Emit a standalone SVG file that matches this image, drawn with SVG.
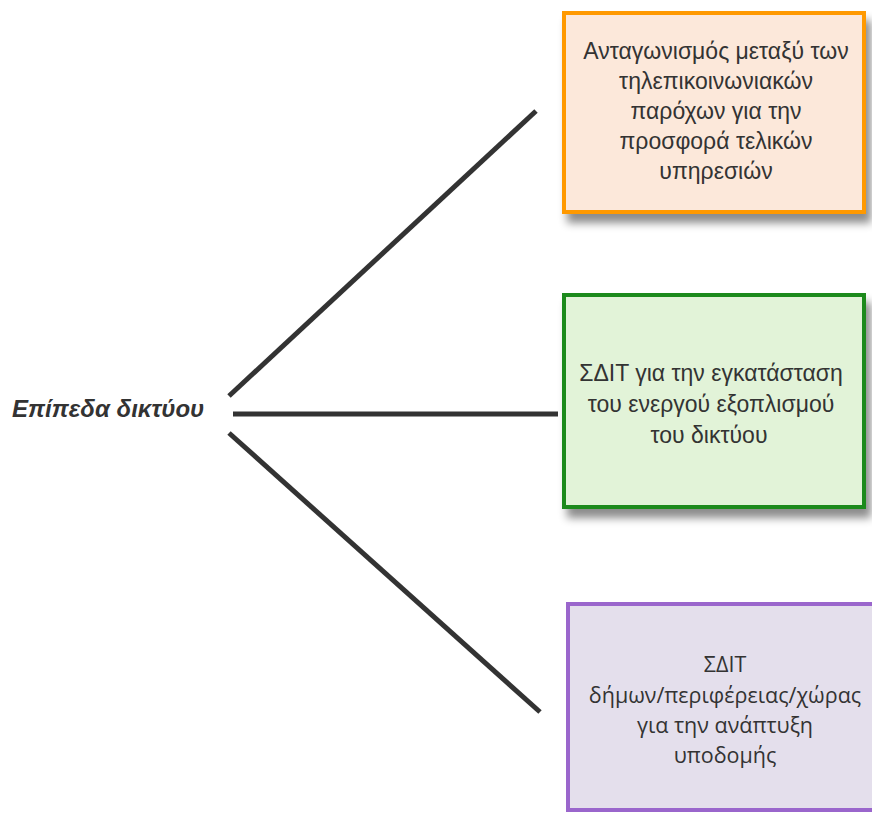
<svg xmlns="http://www.w3.org/2000/svg" width="872" height="813" viewBox="0 0 872 813">
  <defs>
    <filter id="shadow" x="-10%" y="-10%" width="130%" height="140%">
      <feDropShadow dx="5" dy="9" stdDeviation="4" flood-color="#000" flood-opacity="0.45"/>
    </filter>
  </defs>
  <style>
    .box { stroke-width: 4; }
    .txt { font-family: "Liberation Sans", Arial, sans-serif; font-size: 23px; fill: #333; text-anchor: middle; }
    .txt2 { font-family: "Open Sans", "Noto Sans", sans-serif; font-size: 21.5px; fill: #333; text-anchor: middle; }
    .conn { stroke: #333; stroke-width: 5; fill: none; }
    .label { font-family: "Liberation Sans", Arial, sans-serif; font-size: 24px; font-weight: bold; font-style: italic; fill: #333; }
  </style>
  <rect width="872" height="813" fill="#fff"/>

  <g id="connectors">
    <line class="conn" x1="229" y1="396" x2="536" y2="111"/>
    <line class="conn" x1="233" y1="414" x2="558" y2="414"/>
    <line class="conn" x1="229" y1="433" x2="540" y2="712"/>
  </g>

  <g id="root">
    <text class="label" x="12" y="417">Επίπεδα δικτύου</text>
  </g>

  <g id="competition">
    <rect class="box" x="564" y="13" width="300" height="199" fill="#FCE8DA" stroke="#FF9900" filter="url(#shadow)"/>
    <text class="txt" x="716" y="59">Ανταγωνισμός μεταξύ των</text>
    <text class="txt" x="716" y="89">τηλεπικοινωνιακών</text>
    <text class="txt" x="716" y="119">παρόχων για την</text>
    <text class="txt" x="716" y="149">προσφορά τελικών</text>
    <text class="txt" x="716" y="179">υπηρεσιών</text>
  </g>

  <g id="active-equipment">
    <rect class="box" x="564" y="295" width="300" height="212" fill="#E2F3D8" stroke="#1F8A1F" filter="url(#shadow)"/>
    <text class="txt" x="711" y="381">ΣΔΙΤ για την εγκατάσταση</text>
    <text class="txt" x="711" y="412">του ενεργού εξοπλισμού</text>
    <text class="txt" x="709" y="443">του δικτύου</text>
  </g>

  <g id="infrastructure">
    <rect class="box" x="568" y="604" width="310" height="206" fill="#E4DFEC" stroke="#9A66CC"/>
    <text class="txt2" x="725" y="672">ΣΔΙΤ</text>
    <text class="txt2" x="725" y="703">δήμων/περιφέρειας/χώρας</text>
    <text class="txt2" x="725" y="733">για την ανάπτυξη</text>
    <text class="txt2" x="725" y="763">υποδομής</text>
  </g>
</svg>
